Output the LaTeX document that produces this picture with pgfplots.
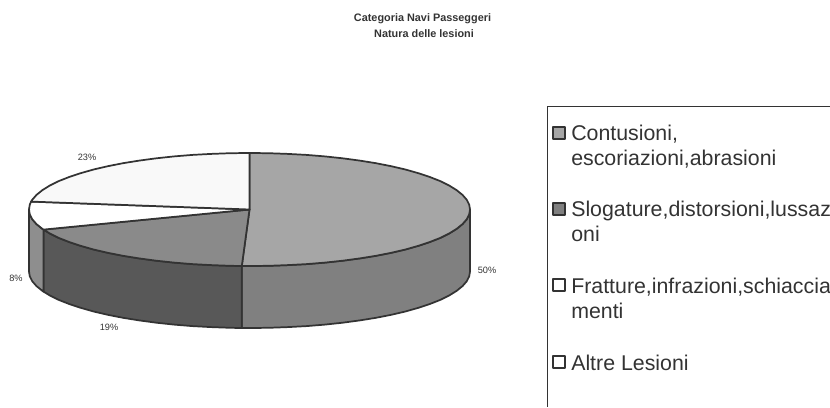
\documentclass[border=0pt]{standalone}
\usepackage{pgfplots}
\pgfplotsset{compat=1.18}
\usepackage{fontspec}
\setmainfont{Liberation Sans}
\definecolor{ln}{HTML}{333333}
\definecolor{txt}{HTML}{333333}
\definecolor{topA}{HTML}{A6A6A6}
\definecolor{sideA}{HTML}{808080}
\definecolor{topB}{HTML}{8A8A8A}
\definecolor{sideB}{HTML}{585858}
\definecolor{sideC}{HTML}{8E8E8E}
\definecolor{topD}{HTML}{F9F9F9}
\begin{document}
\begin{tikzpicture}
\begin{axis}[
  name=ax,
  scale only axis, width=622.5pt, height=305.25pt,
  xmin=0, xmax=830, ymin=0, ymax=407, y dir=reverse,
  hide axis, clip=true,
  every axis plot/.append style={line join=round},
]
% side: slice 50%
\addplot[fill=sideA,draw=ln,line width=1.3pt] coordinates {
(470.0,209.5)(469.2,214.4)(466.7,219.3)(462.5,224.1)(456.7,228.8)(449.3,233.4)(440.5,237.8)(430.1,241.9)(418.4,245.8)(405.4,249.5)(391.2,252.8)(376.0,255.8)(359.8,258.4)(342.7,260.7)(324.9,262.6)(306.6,264.1)(287.8,265.1)(268.7,265.8)(249.5,266)(241.8,266)
(241.8,328)(249.5,328)(268.7,327.8)(287.8,327.1)(306.6,326.1)(324.9,324.6)(342.7,322.7)(359.8,320.4)(376.0,317.8)(391.2,314.8)(405.4,311.5)(418.4,307.8)(430.1,303.9)(440.5,299.8)(449.3,295.4)(456.7,290.8)(462.5,286.1)(466.7,281.3)(469.2,276.4)(470.0,271.5)
} --cycle;
% side: slice 19%
\addplot[fill=sideB,draw=ln,line width=1.3pt] coordinates {
(241.8,266)(230.3,265.8)(211.2,265.1)(192.4,264.1)(174.1,262.6)(156.3,260.7)(139.2,258.4)(123.0,255.8)(107.8,252.8)(93.6,249.5)(80.6,245.8)(68.9,241.9)(58.5,237.8)(49.7,233.4)(43.5,229.6)
(43.5,291.6)(49.7,295.4)(58.5,299.8)(68.9,303.9)(80.6,307.8)(93.6,311.5)(107.8,314.8)(123.0,317.8)(139.2,320.4)(156.3,322.7)(174.1,324.6)(192.4,326.1)(211.2,327.1)(230.3,327.8)(241.8,328)
} --cycle;
% side: slice 8%
\addplot[fill=sideC,draw=ln,line width=1.3pt] coordinates {
(43.5,229.6)(42.3,228.8)(36.5,224.1)(32.3,219.3)(29.8,214.4)(29.0,209.5)
(29.0,271.5)(29.8,276.4)(32.3,281.3)(36.5,286.1)(42.3,290.8)(43.5,291.6)
} --cycle;
% top: slice 50%
\addplot[fill=topA,draw=ln,line width=1.3pt] coordinates {
(249.5,209.5)(249.5,153)(268.7,153.2)(287.8,153.9)(306.6,154.9)(324.9,156.4)(342.7,158.3)(359.8,160.6)(376.0,163.2)(391.2,166.2)(405.4,169.5)(418.4,173.2)(430.1,177.1)(440.5,181.2)(449.3,185.6)(456.7,190.2)(462.5,194.9)(466.7,199.7)(469.2,204.6)(470.0,209.5)
(469.2,214.4)(466.7,219.3)(462.5,224.1)(456.7,228.8)(449.3,233.4)(440.5,237.8)(430.1,241.9)(418.4,245.8)(405.4,249.5)(391.2,252.8)(376.0,255.8)(359.8,258.4)(342.7,260.7)(324.9,262.6)(306.6,264.1)(287.8,265.1)(268.7,265.8)(249.5,266)(241.8,266)
} --cycle;
% top: slice 19%
\addplot[fill=topB,draw=ln,line width=1.3pt] coordinates {
(249.5,209.5)(241.8,266)(230.3,265.8)(211.2,265.1)(192.4,264.1)(174.1,262.6)(156.3,260.7)(139.2,258.4)(123.0,255.8)(107.8,252.8)(93.6,249.5)(80.6,245.8)(68.9,241.9)(58.5,237.8)(49.7,233.4)(43.5,229.6)
} --cycle;
% top: slice 8%
\addplot[fill=white,draw=ln,line width=1.3pt] coordinates {
(249.5,209.5)(43.5,229.6)(42.3,228.8)(36.5,224.1)(32.3,219.3)(29.8,214.4)(29.0,209.5)(29.8,204.6)(31.1,201.6)
} --cycle;
% top: slice 23%
\addplot[fill=topD,draw=ln,line width=1.3pt] coordinates {
(249.5,209.5)(31.1,201.6)(32.3,199.7)(36.5,194.9)(42.3,190.2)(49.7,185.6)(58.5,181.2)(68.9,177.1)(80.6,173.2)(93.6,169.5)(107.8,166.2)(123.0,163.2)(139.2,160.6)(156.3,158.3)(174.1,156.4)(192.4,154.9)(211.2,153.9)(230.3,153.2)(249.5,153)
} --cycle;
% legend frame
\addplot[draw=ln,line width=0.8pt] coordinates {(830,106.7)(547.3,106.7)(547.3,407)};
% legend keys
\addplot[only marks,mark=square*,mark size=4.8pt,mark options={fill=topA,draw=ln,line width=1.5pt}] coordinates {(559,133)};
\addplot[only marks,mark=square*,mark size=4.8pt,mark options={fill=sideA,draw=ln,line width=1.5pt}] coordinates {(559,209)};
\addplot[only marks,mark=square*,mark size=4.8pt,mark options={fill=white,draw=ln,line width=1.5pt}] coordinates {(559,285)};
\addplot[only marks,mark=square*,mark size=4.8pt,mark options={fill=white,draw=ln,line width=1.5pt}] coordinates {(559,362)};
% title
\node[font=\fontsize{8.15}{9.8}\selectfont\bfseries,text=txt,inner sep=0pt,anchor=base] at (axis cs:422.5,21.5) {Categoria Navi Passeggeri};
\node[font=\fontsize{8.15}{9.8}\selectfont\bfseries,text=txt,inner sep=0pt,anchor=base] at (axis cs:424,37.5) {Natura delle lesioni};
% slice labels
\node[font=\fontsize{6.9}{8}\selectfont,text=txt,inner sep=0pt] at (axis cs:87,157) {23\%};
\node[font=\fontsize{6.9}{8}\selectfont,text=txt,inner sep=0pt] at (axis cs:16,278) {8\%};
\node[font=\fontsize{6.9}{8}\selectfont,text=txt,inner sep=0pt] at (axis cs:109,327) {19\%};
\node[font=\fontsize{6.9}{8}\selectfont,text=txt,inner sep=0pt] at (axis cs:487,270) {50\%};
% legend text
\node[font=\fontsize{16}{19}\selectfont,text=txt,inner sep=0pt,anchor=base west] at (axis cs:571,140.7) {Contusioni,};
\node[font=\fontsize{16}{19}\selectfont,text=txt,inner sep=0pt,anchor=base west] at (axis cs:571,165.7) {escoriazioni,abrasioni};
\node[font=\fontsize{16}{19}\selectfont,text=txt,inner sep=0pt,anchor=base west] at (axis cs:571,216.7) {Slogature,distorsioni,lussaz};
\node[font=\fontsize{16}{19}\selectfont,text=txt,inner sep=0pt,anchor=base west] at (axis cs:571,241.7) {oni};
\node[font=\fontsize{16}{19}\selectfont,text=txt,inner sep=0pt,anchor=base west] at (axis cs:571,293.3) {Fratture,infrazioni,schiaccia};
\node[font=\fontsize{16}{19}\selectfont,text=txt,inner sep=0pt,anchor=base west] at (axis cs:571,318.3) {menti};
\node[font=\fontsize{16}{19}\selectfont,text=txt,inner sep=0pt,anchor=base west] at (axis cs:571,370) {Altre Lesioni};
\end{axis}
\pgfresetboundingbox
\path[use as bounding box] (ax.south west) rectangle (ax.north east);
\end{tikzpicture}
\end{document}
